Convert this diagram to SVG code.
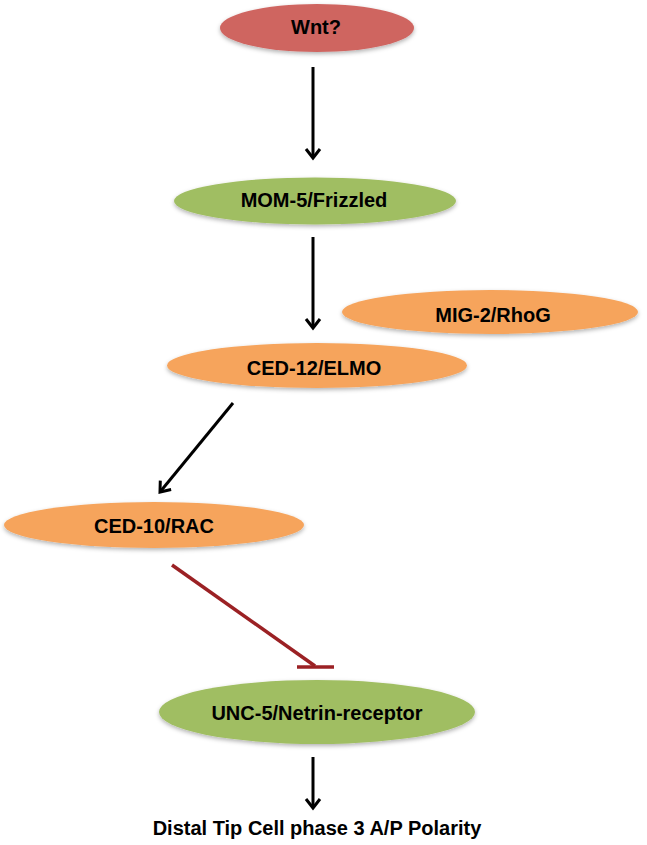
<svg xmlns="http://www.w3.org/2000/svg" width="647" height="845" viewBox="0 0 647 845">
<style>
  .lbl{font-family:"Liberation Sans",Arial,sans-serif;font-weight:bold;font-size:20px;fill:#000;text-anchor:middle}
  .red{fill:#cf6561}
  .green{fill:#a0be62}
  .orange{fill:#f6a45c}
  .arr{stroke:#000;stroke-width:3;fill:none}
  .inh{stroke:#9b2124;stroke-width:3.5;fill:none}
</style>
<defs>
  <filter id="sh" x="-10%" y="-20%" width="120%" height="160%">
    <feDropShadow dx="0" dy="2" stdDeviation="2" flood-color="#000" flood-opacity="0.3"/>
  </filter>
  <marker id="ah" markerUnits="userSpaceOnUse" viewBox="-10 -10 20 20" markerWidth="20" markerHeight="20" refX="0" refY="0" orient="auto">
    <path d="M-9,-7 L0,0 L-9,7" fill="none" stroke="#000" stroke-width="3" stroke-linejoin="miter"/>
  </marker>
</defs>
<g id="connectors">
  <line class="arr" x1="313" y1="67" x2="313" y2="158" marker-end="url(#ah)"/>
  <line class="arr" x1="313" y1="237" x2="313" y2="328" marker-end="url(#ah)"/>
  <line class="arr" x1="233" y1="403" x2="160" y2="492" marker-end="url(#ah)"/>
  <line class="inh" x1="172" y1="565" x2="315" y2="666"/>
  <line class="inh" x1="297" y1="667" x2="334" y2="667" stroke-width="4"/>
  <line class="arr" x1="313" y1="757" x2="313" y2="808" marker-end="url(#ah)"/>
</g>
<g id="wnt">
  <ellipse class="red" cx="317" cy="28" rx="97" ry="24" filter="url(#sh)"/>
  <text class="lbl" x="316" y="34">Wnt?</text>
</g>
<g id="mom5">
  <ellipse class="green" cx="315" cy="201" rx="141" ry="23.5" filter="url(#sh)"/>
  <text class="lbl" x="314" y="207">MOM-5/Frizzled</text>
</g>
<g id="mig2">
  <ellipse class="orange" cx="490" cy="312" rx="148" ry="22" filter="url(#sh)"/>
  <text class="lbl" x="493" y="322">MIG-2/RhoG</text>
</g>
<g id="ced12">
  <ellipse class="orange" cx="317" cy="365.5" rx="150" ry="22.5" filter="url(#sh)"/>
  <text class="lbl" x="314" y="375">CED-12/ELMO</text>
</g>
<g id="ced10">
  <ellipse class="orange" cx="154" cy="525" rx="150" ry="23" filter="url(#sh)"/>
  <text class="lbl" x="154" y="533">CED-10/RAC</text>
</g>
<g id="unc5">
  <ellipse class="green" cx="317" cy="712" rx="158" ry="32" filter="url(#sh)"/>
  <text class="lbl" x="317" y="720">UNC-5/Netrin-receptor</text>
</g>
<g id="polarity">
  <text class="lbl" x="317" y="835">Distal Tip Cell phase 3 A/P Polarity</text>
</g>
</svg>
